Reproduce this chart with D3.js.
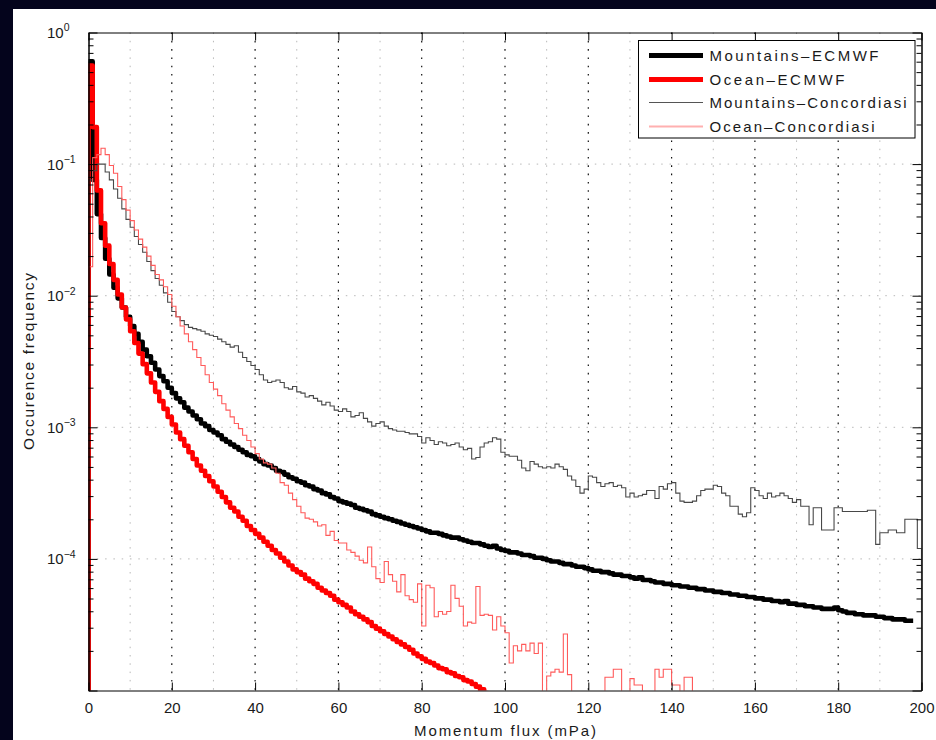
<!DOCTYPE html>
<html><head><meta charset="utf-8">
<script src="https://cdn.jsdelivr.net/npm/d3@7"></script>
<style>
html,body{margin:0;padding:0;background:#04041c;}
svg{display:block;}
text{font-family:"Liberation Sans",Arial,Helvetica,sans-serif;fill:#1a1a1a;}
</style></head><body>
<svg id="chart" width="936" height="740"></svg>
<script>
// ---------------- DATA ----------------
const seriesNames = ["Mountains\u2013ECMWF", "Ocean\u2013ECMWF", "Mountains\u2013Concordiasi", "Ocean\u2013Concordiasi"];
const binWidth = 1; // mPa, histogram bins start at 0
const xTickValues = [0, 20, 40, 60, 80, 100, 120, 140, 160, 180, 200];
const xGridMinor = [10, 30, 50, 70, 90, 110, 130, 150, 170, 190];
const yTickExponents = [0, -1, -2, -3, -4];
const xLabel = "Momentum flux (mPa)";
const yLabel = "Occurence frequency";

const mountainsEcmwf = [
0.603, 7.59e-2, 4.17e-2, 2.75e-2, 1.91e-2, 1.45e-2, 1.15e-2, 9.55e-3, 8.13e-3, 6.92e-3,
5.89e-3, 5.13e-3, 4.47e-3, 3.89e-3, 3.47e-3, 3.09e-3, 2.75e-3, 2.45e-3, 2.24e-3, 2.00e-3,
1.82e-3, 1.66e-3, 1.55e-3, 1.41e-3, 1.32e-3, 1.23e-3, 1.15e-3, 1.07e-3, 1.02e-3, 9.55e-4,
9.12e-4, 8.71e-4, 8.13e-4, 7.76e-4, 7.41e-4, 7.08e-4, 6.76e-4, 6.46e-4, 6.17e-4, 6.03e-4,
5.75e-4, 5.50e-4, 5.25e-4, 5.13e-4, 4.90e-4, 4.68e-4, 4.57e-4, 4.37e-4, 4.17e-4, 4.07e-4,
3.89e-4, 3.80e-4, 3.63e-4, 3.55e-4, 3.39e-4, 3.31e-4, 3.16e-4, 3.09e-4, 2.95e-4, 2.88e-4,
2.75e-4, 2.69e-4, 2.63e-4, 2.57e-4, 2.45e-4, 2.40e-4, 2.34e-4, 2.29e-4, 2.19e-4, 2.14e-4,
2.09e-4, 2.04e-4, 2.00e-4, 1.95e-4, 1.91e-4, 1.86e-4, 1.82e-4, 1.78e-4, 1.74e-4, 1.70e-4,
1.66e-4, 1.62e-4, 1.58e-4, 1.58e-4, 1.55e-4, 1.51e-4, 1.48e-4, 1.45e-4, 1.45e-4, 1.41e-4,
1.38e-4, 1.35e-4, 1.32e-4, 1.32e-4, 1.29e-4, 1.26e-4, 1.23e-4, 1.26e-4, 1.20e-4, 1.17e-4,
1.15e-4, 1.12e-4, 1.12e-4, 1.10e-4, 1.07e-4, 1.07e-4, 1.05e-4, 1.02e-4, 1.02e-4, 1.00e-4,
9.77e-5, 9.55e-5, 9.55e-5, 9.33e-5, 9.12e-5, 9.12e-5, 8.91e-5, 8.71e-5, 8.71e-5, 8.51e-5,
8.32e-5, 8.13e-5, 8.13e-5, 7.94e-5, 7.94e-5, 7.76e-5, 7.59e-5, 7.59e-5, 7.41e-5, 7.41e-5,
7.24e-5, 7.08e-5, 7.24e-5, 6.92e-5, 6.92e-5, 6.76e-5, 6.61e-5, 6.61e-5, 6.46e-5, 6.46e-5,
6.31e-5, 6.31e-5, 6.17e-5, 6.17e-5, 6.03e-5, 6.03e-5, 5.89e-5, 5.89e-5, 5.75e-5, 5.75e-5,
5.62e-5, 5.62e-5, 5.50e-5, 5.50e-5, 5.37e-5, 5.37e-5, 5.25e-5, 5.25e-5, 5.13e-5, 5.13e-5,
5.01e-5, 5.01e-5, 4.90e-5, 4.90e-5, 4.79e-5, 4.79e-5, 4.68e-5, 4.79e-5, 4.57e-5, 4.57e-5,
4.47e-5, 4.47e-5, 4.37e-5, 4.37e-5, 4.27e-5, 4.27e-5, 4.17e-5, 4.17e-5, 4.17e-5, 4.27e-5,
4.07e-5, 3.98e-5, 3.89e-5, 3.89e-5, 3.80e-5, 3.80e-5, 3.72e-5, 3.72e-5, 3.72e-5, 3.63e-5,
3.63e-5, 3.55e-5, 3.55e-5, 3.47e-5, 3.47e-5, 3.47e-5, 3.39e-5, 3.39e-5
];

const oceanEcmwf = [
0.562, 0.191, 6.31e-2, 3.55e-2, 2.40e-2, 1.74e-2, 1.32e-2, 1.02e-2, 8.13e-3, 6.61e-3,
5.37e-3, 4.37e-3, 3.63e-3, 3.02e-3, 2.57e-3, 2.19e-3, 1.86e-3, 1.58e-3, 1.38e-3, 1.20e-3,
1.05e-3, 9.12e-4, 8.13e-4, 7.24e-4, 6.46e-4, 5.75e-4, 5.13e-4, 4.68e-4, 4.27e-4, 3.89e-4,
3.55e-4, 3.24e-4, 2.95e-4, 2.69e-4, 2.45e-4, 2.29e-4, 2.09e-4, 1.95e-4, 1.78e-4, 1.66e-4,
1.55e-4, 1.45e-4, 1.35e-4, 1.26e-4, 1.17e-4, 1.10e-4, 1.02e-4, 9.55e-5, 8.91e-5, 8.32e-5,
7.94e-5, 7.59e-5, 7.08e-5, 6.76e-5, 6.46e-5, 6.03e-5, 5.75e-5, 5.50e-5, 5.25e-5, 4.90e-5,
4.68e-5, 4.47e-5, 4.27e-5, 3.98e-5, 3.80e-5, 3.63e-5, 3.47e-5, 3.31e-5, 3.09e-5, 2.95e-5,
2.82e-5, 2.69e-5, 2.57e-5, 2.45e-5, 2.34e-5, 2.24e-5, 2.14e-5, 2.04e-5, 1.91e-5, 1.82e-5,
1.74e-5, 1.66e-5, 1.62e-5, 1.55e-5, 1.48e-5, 1.45e-5, 1.38e-5, 1.35e-5, 1.29e-5, 1.26e-5,
1.20e-5, 1.17e-5, 1.12e-5, 1.07e-5, 1.02e-5, 9.55e-6
];

const mountainsConcordiasi = [
7.59e-2, 8.91e-2, 1.00e-1, 1.00e-1, 8.71e-2, 7.59e-2, 6.46e-2, 5.50e-2, 4.57e-2, 3.80e-2,
3.31e-2, 2.82e-2, 2.45e-2, 2.14e-2, 1.82e-2, 1.55e-2, 1.35e-2, 1.20e-2, 1.05e-2, 8.91e-3,
7.59e-3, 6.92e-3, 6.46e-3, 6.03e-3, 5.75e-3, 5.62e-3, 5.50e-3, 5.37e-3, 5.13e-3, 5.01e-3,
4.90e-3, 4.68e-3, 4.47e-3, 4.27e-3, 4.07e-3, 4.17e-3, 3.72e-3, 3.39e-3, 3.16e-3, 2.95e-3,
2.75e-3, 2.51e-3, 2.29e-3, 2.19e-3, 2.24e-3, 2.29e-3, 2.19e-3, 2.00e-3, 1.95e-3, 2.04e-3,
1.86e-3, 1.82e-3, 1.70e-3, 1.74e-3, 1.66e-3, 1.58e-3, 1.48e-3, 1.55e-3, 1.45e-3, 1.35e-3,
1.32e-3, 1.38e-3, 1.32e-3, 1.20e-3, 1.23e-3, 1.29e-3, 1.17e-3, 1.10e-3, 1.02e-3, 1.07e-3,
1.10e-3, 1.02e-3, 9.77e-4, 9.55e-4, 9.33e-4, 9.33e-4, 9.12e-4, 8.91e-4, 8.91e-4, 8.51e-4,
7.59e-4, 8.32e-4, 7.94e-4, 7.41e-4, 7.76e-4, 7.59e-4, 7.24e-4, 7.41e-4, 7.59e-4, 7.08e-4,
6.76e-4, 6.92e-4, 5.75e-4, 5.89e-4, 7.08e-4, 7.59e-4, 7.76e-4, 8.32e-4, 8.13e-4, 6.46e-4,
6.17e-4, 6.03e-4, 6.03e-4, 5.62e-4, 4.90e-4, 4.68e-4, 5.50e-4, 5.25e-4, 5.01e-4, 4.90e-4,
5.01e-4, 4.90e-4, 5.25e-4, 5.01e-4, 4.79e-4, 4.27e-4, 3.98e-4, 3.55e-4, 3.16e-4, 3.39e-4,
4.27e-4, 4.17e-4, 3.80e-4, 3.55e-4, 3.72e-4, 3.80e-4, 3.55e-4, 3.63e-4, 3.47e-4, 2.95e-4,
3.16e-4, 2.95e-4, 3.02e-4, 3.09e-4, 3.31e-4, 3.31e-4, 2.88e-4, 3.55e-4, 3.39e-4, 3.72e-4,
3.80e-4, 3.16e-4, 2.75e-4, 2.69e-4, 2.69e-4, 2.75e-4, 3.02e-4, 3.31e-4, 3.39e-4, 3.39e-4,
3.63e-4, 3.55e-4, 3.16e-4, 3.02e-4, 2.51e-4, 2.51e-4, 2.19e-4, 2.09e-4, 2.24e-4, 3.47e-4,
3.31e-4, 3.02e-4, 2.88e-4, 3.16e-4, 2.95e-4, 3.02e-4, 3.16e-4, 3.02e-4, 2.88e-4, 2.69e-4,
2.82e-4, 2.51e-4, 2.51e-4, 1.82e-4, 2.45e-4, 2.45e-4, 1.66e-4, 1.66e-4, 1.66e-4, 2.45e-4,
2.45e-4, 2.29e-4, 2.29e-4, 2.29e-4, 2.29e-4, 2.29e-4, 2.29e-4, 2.34e-4, 2.34e-4, 1.29e-4,
1.58e-4, 1.58e-4, 1.66e-4, 1.66e-4, 1.58e-4, 1.58e-4, 2.00e-4, 2.00e-4, 2.00e-4, 1.20e-4
];

const oceanConcordiasi = [
1.66e-2, 1.12e-1, 1.18e-1, 1.32e-1, 1.18e-1, 9.77e-2, 8.51e-2, 6.76e-2, 5.37e-2, 4.47e-2,
3.72e-2, 3.16e-2, 2.69e-2, 2.34e-2, 2.00e-2, 1.70e-2, 1.45e-2, 1.32e-2, 1.17e-2, 1.02e-2,
8.32e-3, 6.92e-3, 5.89e-3, 5.13e-3, 4.47e-3, 3.89e-3, 3.39e-3, 2.95e-3, 2.51e-3, 2.19e-3,
1.95e-3, 1.74e-3, 1.51e-3, 1.35e-3, 1.20e-3, 1.07e-3, 9.77e-4, 8.71e-4, 7.94e-4, 7.08e-4,
6.31e-4, 5.75e-4, 5.37e-4, 5.25e-4, 4.90e-4, 4.47e-4, 3.80e-4, 3.63e-4, 3.16e-4, 2.82e-4,
2.51e-4, 2.24e-4, 2.04e-4, 2.00e-4, 1.91e-4, 1.78e-4, 1.82e-4, 1.51e-4, 1.62e-4, 1.38e-4,
1.32e-4, 1.32e-4, 1.17e-4, 1.12e-4, 1.05e-4, 9.77e-5, 9.33e-5, 1.23e-4, 8.71e-5, 7.08e-5,
6.61e-5, 9.55e-5, 7.59e-5, 6.76e-5, 5.62e-5, 7.59e-5, 5.25e-5, 4.90e-5, 4.68e-5, 6.46e-5,
3.09e-5, 6.31e-5, 6.03e-5, 3.63e-5, 3.98e-5, 3.80e-5, 3.98e-5, 6.31e-5, 5.01e-5, 4.37e-5,
3.09e-5, 3.31e-5, 3.24e-5, 6.17e-5, 3.72e-5, 3.80e-5, 3.72e-5, 2.88e-5, 3.63e-5, 3.09e-5,
2.75e-5, 1.62e-5, 2.19e-5, 2.00e-5, 2.24e-5, 2.00e-5, 2.29e-5, 1.91e-5, 2.29e-5, 0,
1.29e-5, 1.38e-5, 1.45e-5, 1.38e-5, 2.69e-5, 1.32e-5, 0, 0, 0, 0,
0, 0, 0, 0, 1.26e-5, 1.26e-5, 1.45e-5, 1.45e-5, 0, 0,
1.23e-5, 1.10e-5, 1.10e-5, 0, 0, 0, 1.45e-5, 1.26e-5, 1.45e-5, 1.45e-5,
1.10e-5, 1.10e-5, 0, 1.26e-5, 1.26e-5
];

// ---------------- STYLE / LAYOUT ----------------
const seriesData = [mountainsEcmwf, oceanEcmwf, mountainsConcordiasi, oceanConcordiasi];
const seriesStyle = [
  {color: "#000000", width: 4.6, legendColor: "#000000", legendWidth: 5, join: "round", dropAtEnd: false},
  {color: "#ff0000", width: 4.6, legendColor: "#ff0000", legendWidth: 5, join: "round", dropAtEnd: false},
  {color: "#484848", width: 1.1, legendColor: "#555555", legendWidth: 1.2, join: "miter", dropAtEnd: true},
  {color: "#ff5a5a", width: 1.1, legendColor: "#ffb0b0", legendWidth: 2.2, join: "miter", dropAtEnd: true}
];
const legendTextWidths = [169, 135, 197, 165];

const svg = d3.select("#chart");
svg.append("rect").attr("x", 13).attr("y", 9).attr("width", 923).attr("height", 731).attr("fill", "#ffffff");

const plot = {left: 88.5, top: 32.5, width: 833, height: 658};
const g = svg.append("g").attr("transform", `translate(${plot.left},${plot.top})`);

const x = d3.scaleLinear().domain([0, 200]).range([0, plot.width]);
const y = d3.scaleLog().domain([1e-5, 1]).range([plot.height, 0]);
const yPos = v => v > 0 ? y(v) : plot.height + 6;

const decades = d3.range(-5, 1).map(e => Math.pow(10, e));
const minorY = [];
for (let e = -5; e < 0; e++) for (let m = 2; m <= 9; m++) minorY.push(m * Math.pow(10, e));

// grid
g.append("g").selectAll("line").data(xGridMinor).join("line")
  .attr("x1", d => x(d)).attr("x2", d => x(d)).attr("y1", 0).attr("y2", plot.height)
  .attr("stroke", "#b8b8b8").attr("stroke-width", 1).attr("stroke-dasharray", "1.5,6.8");
g.append("g").selectAll("line").data(xTickValues.slice(1, -1)).join("line")
  .attr("x1", d => x(d)).attr("x2", d => x(d)).attr("y1", 0).attr("y2", plot.height)
  .attr("stroke", "#111").attr("stroke-width", 1.2).attr("stroke-dasharray", "1.6,6.7");
g.append("g").selectAll("line").data(decades.slice(1, -1)).join("line")
  .attr("x1", 0).attr("x2", plot.width).attr("y1", d => y(d)).attr("y2", d => y(d))
  .attr("stroke", "#b8b8b8").attr("stroke-width", 1).attr("stroke-dasharray", "1.5,6.8");

// data (histogram stairs)
svg.append("defs").append("clipPath").attr("id", "clip")
  .append("rect").attr("width", plot.width).attr("height", plot.height);
const line = d3.line().x(d => x(d[0])).y(d => yPos(d[1])).curve(d3.curveLinear);
const dataG = g.append("g").attr("clip-path", "url(#clip)");
seriesData.forEach((vals, i) => {
  const st = seriesStyle[i];
  const pts = [[0, 0]];
  vals.forEach((v, k) => { pts.push([k * binWidth, v]); pts.push([(k + 1) * binWidth, v]); });
  if (st.dropAtEnd) pts.push([vals.length * binWidth, 0]);
  dataG.append("path").datum(pts).attr("d", line)
    .attr("fill", "none").attr("stroke", st.color)
    .attr("stroke-width", st.width)
    .attr("stroke-linejoin", st.join).attr("stroke-linecap", "butt");
});

// axes
function styleAxis(sel) {
  sel.select(".domain").attr("stroke", "#000").attr("stroke-width", 1);
  sel.selectAll(".tick line").attr("stroke", "#000").attr("stroke-width", 1);
}
const axB = g.append("g").attr("transform", `translate(0,${plot.height})`)
  .call(d3.axisBottom(x).tickValues(xTickValues).tickSizeInner(-8).tickSizeOuter(0).tickPadding(12).tickFormat(d3.format("d")));
axB.call(styleAxis);
axB.selectAll(".tick text").attr("font-size", 15).attr("font-family", "Liberation Sans, Arial, sans-serif").attr("fill", "#1a1a1a");
const axT = g.append("g").call(d3.axisTop(x).tickValues(xTickValues).tickSizeInner(-8).tickSizeOuter(0).tickFormat(""));
axT.call(styleAxis);

const axL = g.append("g").call(d3.axisLeft(y).tickValues(decades).tickSizeInner(-9).tickSizeOuter(0).tickFormat(""));
axL.call(styleAxis);
g.append("g").call(d3.axisLeft(y).tickValues(minorY).tickSizeInner(-5).tickSizeOuter(0).tickFormat("")).call(styleAxis);
const axR = g.append("g").attr("transform", `translate(${plot.width},0)`)
  .call(d3.axisRight(y).tickValues(decades).tickSizeInner(-9).tickSizeOuter(0).tickFormat(""));
axR.call(styleAxis);
g.append("g").attr("transform", `translate(${plot.width},0)`)
  .call(d3.axisRight(y).tickValues(minorY).tickSizeInner(-5).tickSizeOuter(0).tickFormat("")).call(styleAxis);

// y tick labels 10^n
const labelG = g.append("g");
yTickExponents.forEach(e => {
  const t = labelG.append("text").attr("x", -41.5).attr("y", y(Math.pow(10, e))).attr("dy", "0.36em")
    .attr("font-size", 15);
  t.append("tspan").text("10");
  t.append("tspan").attr("font-size", 10.5).attr("dy", "-0.62em").text(e === 0 ? "0" : "\u2212" + Math.abs(e));
});

// axis labels
svg.append("text").attr("x", plot.left + plot.width / 2).attr("y", 736).attr("text-anchor", "middle")
  .attr("font-size", 15).attr("textLength", 182).attr("lengthAdjust", "spacing").text(xLabel);
svg.append("text").attr("transform", `translate(33.5,${plot.top + plot.height / 2}) rotate(-90)`)
  .attr("text-anchor", "middle").attr("font-size", 15.5).attr("textLength", 177).attr("lengthAdjust", "spacing").text(yLabel);

// legend
const lg = svg.append("g");
lg.append("rect").attr("x", 638.5).attr("y", 40.5).attr("width", 276.5).attr("height", 97.5)
  .attr("fill", "#fff").attr("stroke", "#000").attr("stroke-width", 1);
const rowBase = [60.5, 84.5, 107.5, 131.5];
seriesNames.forEach((name, i) => {
  lg.append("line").attr("x1", 649).attr("x2", 703).attr("y1", rowBase[i] - 5).attr("y2", rowBase[i] - 5)
    .attr("stroke", seriesStyle[i].legendColor).attr("stroke-width", seriesStyle[i].legendWidth);
  lg.append("text").attr("x", 709.5).attr("y", rowBase[i]).attr("font-size", 15)
    .attr("textLength", legendTextWidths[i]).attr("lengthAdjust", "spacing").text(name);
});
</script>
</body></html>
